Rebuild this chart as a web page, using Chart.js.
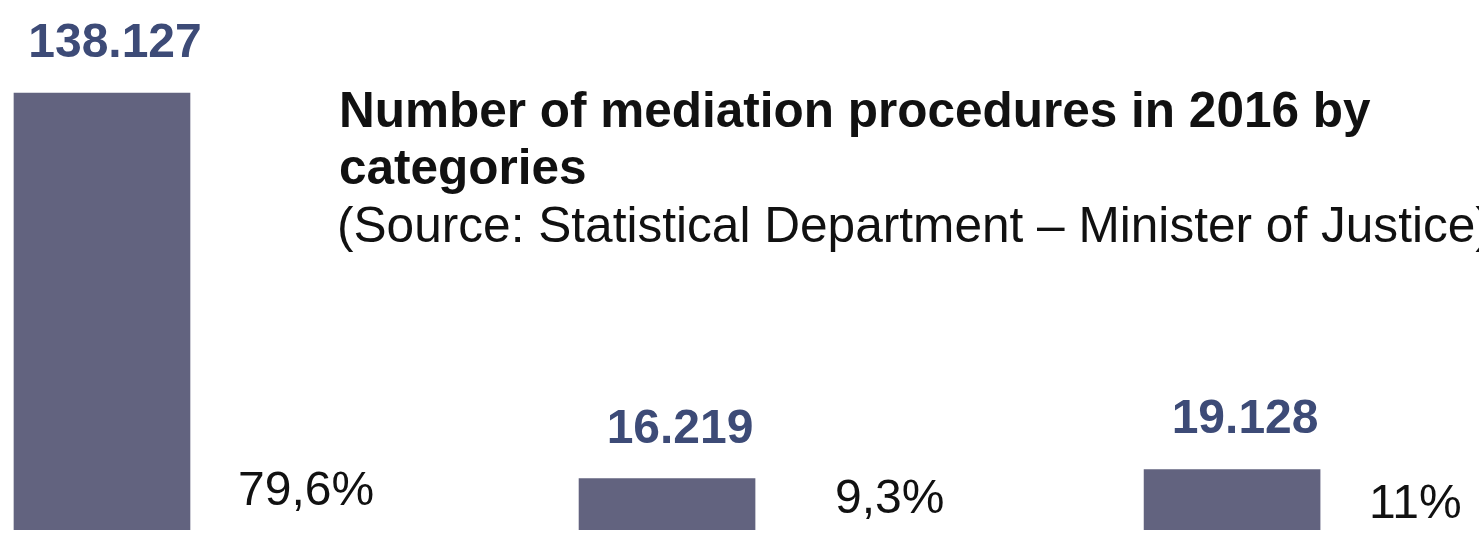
<!DOCTYPE html>
<html>
<head>
<meta charset="utf-8">
<script src="https://cdn.jsdelivr.net/npm/chart.js@4"></script>
<style>
  html, body { margin: 0; padding: 0; background: #fff; }
  #wrap { width: 1479px; height: 535px; position: relative; }
</style>
</head>
<body>
<div id="wrap"><canvas id="chart"></canvas></div>
<script>
const categories = ['Category 1', 'Category 2', 'Category 3'];
const procedures = [138127, 16219, 19128];
const valueLabels = ['138.127', '16.219', '19.128'];
const shareLabels = ['79,6%', '9,3%', '11%'];
const titleLines = ['Number of mediation procedures in 2016 by', 'categories'];
const sourceLine = '(Source: Statistical Department \u2013 Minister of Justice)';

const FONT = '"Liberation Sans", Arial, Helvetica, sans-serif';

// labels above / beside bars and the title block
const annotate = {
  id: 'annotate',
  afterDatasetsDraw(chart, args, opts) {
    const { ctx } = chart;
    const meta = chart.getDatasetMeta(0);
    ctx.save();
    meta.data.forEach((bar, i) => {
      const half = bar.width / 2;
      ctx.fillStyle = '#3d4b77';
      ctx.font = 'bold 48px ' + FONT;
      ctx.textAlign = 'center';
      ctx.textBaseline = 'alphabetic';
      ctx.fillText(valueLabels[i], bar.x + 13, bar.y - 36);

      ctx.fillStyle = '#111';
      ctx.font = '48px ' + FONT;
      ctx.textAlign = 'left';
      ctx.fillText(shareLabels[i], bar.x + half + opts.shareDx[i], bar.base + opts.shareDy[i]);
    });

    ctx.fillStyle = '#111';
    ctx.textAlign = 'left';
    ctx.font = 'bold 49.5px ' + FONT;
    titleLines.forEach((line, i) => ctx.fillText(line, 339, 127 + i * 57));
    ctx.font = '49.6px ' + FONT;
    ctx.fillText(sourceLine, 337, 242);
    ctx.restore();
  },
};

new Chart(document.getElementById('chart'), {
  type: 'bar',
  data: {
    labels: categories,
    datasets: [{
      data: procedures.map((v, i) => ({ x: i, y: v })),
      backgroundColor: '#62637f',
      borderWidth: 0,
      barThickness: 176,
    }],
  },
  options: {
    responsive: true,
    maintainAspectRatio: false,
    animation: false,
    layout: { padding: { top: 0, bottom: 5, left: 0, right: 0 } },
    plugins: {
      legend: { display: false },
      tooltip: { enabled: false },
      annotate: { shareDx: [48, 80, 49], shareDy: [-25, -17, -12] },
    },
    scales: {
      x: { type: 'linear', min: -0.1805, max: 2.437, offset: false, display: false },
      y: { min: 0, max: 167520, display: false },
    },
  },
  plugins: [annotate],
});
</script>
</body>
</html>
